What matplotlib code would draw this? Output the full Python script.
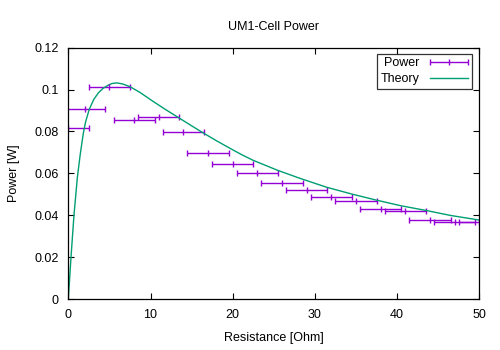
import matplotlib
matplotlib.use('Agg')
import matplotlib.pyplot as plt
from matplotlib.legend_handler import HandlerErrorbar

# measured power points (resistance in Ohm, power in W)
resistance = [0, 2, 5, 8, 11, 14, 17, 20, 23, 26, 29, 32, 35, 38, 41, 44, 47, 50]
power = [0.0817, 0.0906, 0.1013, 0.0855, 0.0869, 0.0798, 0.0699, 0.0644, 0.0601,
         0.0552, 0.0520, 0.0487, 0.0467, 0.0429, 0.0420, 0.0379, 0.0367, 0.0367]
resistance_err = [2.5] * len(resistance)

# theory curve
theory_r = [0, 0.33, 0.69, 1.1, 1.45, 1.82, 2.1, 2.55, 3.1, 3.65, 4.2, 4.8, 5.3, 5.9,
            6.6, 7.5, 8.7, 10.3, 11.9, 13.5, 15.0, 16.5, 18.1, 19.7, 21.1, 22.5, 25.5,
            28.2, 31.4, 34.5, 37.5, 40.5, 43.5, 46.5, 50]
theory_p = [0, 0.02, 0.04, 0.058, 0.069, 0.079, 0.0845, 0.0906, 0.0953, 0.0984, 0.1005,
            0.102, 0.1029, 0.1032, 0.1027, 0.1014, 0.0987, 0.0944, 0.0903, 0.0864, 0.0827,
            0.0791, 0.0754, 0.0719, 0.0689, 0.0662, 0.0614, 0.0576, 0.0534, 0.0501, 0.0472,
            0.0445, 0.0423, 0.0399, 0.0377]

x_ticks = [0, 10, 20, 30, 40, 50]
y_ticks = [0, 0.02, 0.04, 0.06, 0.08, 0.1, 0.12]
y_tick_labels = ['0', '0.02', '0.04', '0.06', '0.08', '0.1', '0.12']

plt.rcParams['font.family'] = ['Liberation Sans', 'DejaVu Sans']
plt.rcParams['font.size'] = 9

fig = plt.figure(figsize=(5, 3.5), dpi=100)
ax = fig.add_axes([0.1366, 0.1457, 0.822, 0.7180])

eb = ax.errorbar(resistance, power, xerr=resistance_err, fmt='|', color='#9400D3',
                 ecolor='#9400D3', elinewidth=1.0, capsize=2.4, capthick=1.0,
                 markersize=5, markeredgewidth=1.0, label='Power')
line, = ax.plot(theory_r, theory_p, color='#009E73', linewidth=1.0, label='Theory')

ax.set_xlim(0, 50)
ax.set_ylim(0, 0.12)
ax.set_xticks(x_ticks)
ax.set_yticks(y_ticks)
ax.set_yticklabels(y_tick_labels)
ax.tick_params(direction='in', length=4.5, width=0.8, top=True, right=True, pad=7)
for s in ax.spines.values():
    s.set_linewidth(0.9)

ax.set_title('UM1-Cell Power', fontsize=9, pad=13)
ax.set_xlabel('Resistance [Ohm]', labelpad=8)
ax.set_ylabel('Power [W]', labelpad=10)

leg = ax.legend([eb, line], ['Power', 'Theory'], loc='upper right',
                bbox_to_anchor=(0.9815, 0.976), borderaxespad=0,
                markerfirst=False, fancybox=False, handlelength=3.0,
                handletextpad=0.9, borderpad=0.3, labelspacing=0.3,
                handler_map={type(eb): HandlerErrorbar(xerr_size=1.5)})
leg.get_frame().set_edgecolor('black')
leg.get_frame().set_linewidth(0.9)

fig.savefig('out.png', dpi=100)
